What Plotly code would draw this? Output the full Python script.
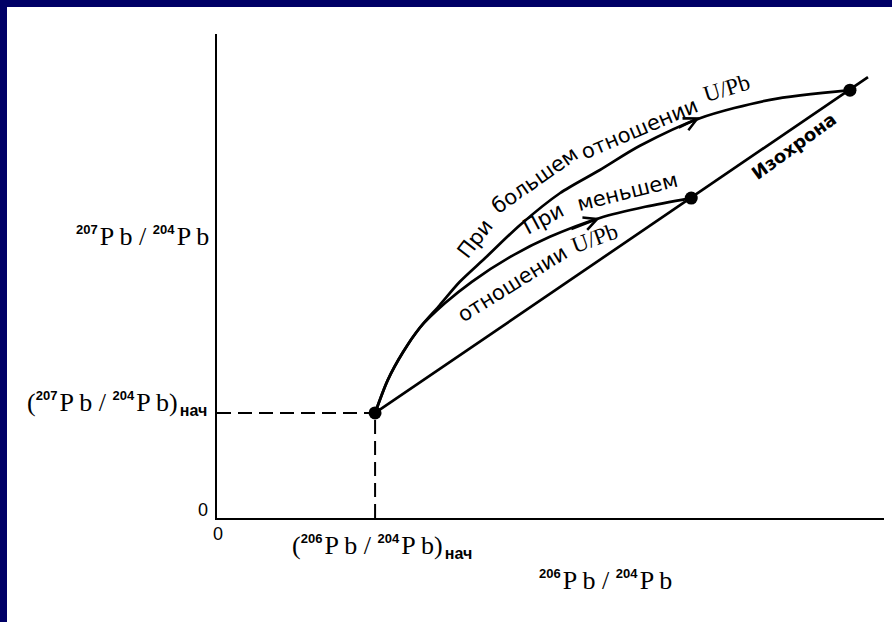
import plotly.graph_objects as go

# ---- data (axis units; both axes span 0..10) ----
X_RANGE = [0, 10]
Y_RANGE = [0, 10]

# initial lead composition
init_x = [2.37]
init_y = [2.17]

# evolution path for the higher U/Pb source
high_x = [2.37, 2.56, 2.79, 3.04, 3.34, 3.64, 4.02, 4.54, 5.14, 5.74, 6.34, 7.24, 8.29, 9.49]
high_y = [2.17, 2.85, 3.43, 3.93, 4.40, 4.88, 5.37, 6.05, 6.71, 7.19, 7.69, 8.26, 8.64, 8.84]

# evolution path for the lower U/Pb source
low_x = [2.37, 2.56, 2.79, 3.04, 3.42, 3.82, 4.39, 4.99, 5.74, 6.42, 7.11]
low_y = [2.17, 2.85, 3.43, 3.93, 4.44, 4.88, 5.39, 5.81, 6.20, 6.43, 6.61]

# isochron through the initial point and present-day compositions
iso_x = [2.37, 7.11, 9.49, 9.76]
iso_y = [2.17, 6.61, 8.84, 9.11]

# present-day compositions (marked points)
now_x = [7.11, 9.49]
now_y = [6.61, 8.84]

# direction arrows on each path: (tail, tip)
arrow_tail_x = [6.90, 5.29]
arrow_tail_y = [8.05, 5.96]
arrow_tip_x = [7.24, 5.74]
arrow_tip_y = [8.28, 6.20]

# tick labels
x_tick_text = "0"
y_tick_text = "0"

# ---- geometry of the page ----
W_FIG, H_FIG = 892, 622
M_L, M_R, M_T, M_B = 217, 8, 34, 104
PW = W_FIG - M_L - M_R
PH = H_FIG - M_T - M_B


def px_x(p):
    return (p - M_L) / PW


def px_y(p):
    return (H_FIG - M_B - p) / PH


def dx(p):
    return (p - M_L) / PW * (X_RANGE[1] - X_RANGE[0])


def dy(p):
    return (H_FIG - M_B - p) / PH * (Y_RANGE[1] - Y_RANGE[0])


SANS = "DejaVu Sans"
SERIF = "Liberation Serif"
SUP = 'style="font-family:Liberation Sans;font-size:13px;font-weight:bold"'
SUB = 'style="font-family:Liberation Sans;font-size:16px;font-weight:bold"'
THIN = "\u2009"
HAIR = "\u200a"


def ratio(a, b):
    pb = f"P{THIN}b"
    return (f"<sup><span {SUP}>{a}</span></sup>{HAIR}{pb} / "
            f"<sup><span {SUP}>{b}</span></sup>{HAIR}{pb}")


def initial(a, b):
    return f"({ratio(a, b)}){HAIR}<sub><span {SUB}>нач</span></sub>"


fig = go.Figure()

line_style = dict(color="black", width=2.7, shape="spline", smoothing=0.8)

fig.add_trace(go.Scatter(x=high_x, y=high_y, mode="lines", line=line_style,
                         hoverinfo="skip"))
fig.add_trace(go.Scatter(x=low_x, y=low_y, mode="lines", line=line_style,
                         hoverinfo="skip"))
fig.add_trace(go.Scatter(x=iso_x, y=iso_y, mode="lines",
                         line=dict(color="black", width=2.7), hoverinfo="skip"))

# projections of the initial point onto the axes
fig.add_trace(go.Scatter(x=[X_RANGE[0], init_x[0]], y=[init_y[0], init_y[0]],
                         mode="lines",
                         line=dict(color="black", width=2, dash="14px,7px"),
                         hoverinfo="skip"))
fig.add_trace(go.Scatter(x=[init_x[0], init_x[0]], y=[Y_RANGE[0], init_y[0]],
                         mode="lines",
                         line=dict(color="black", width=2, dash="14px,7px"),
                         hoverinfo="skip"))

fig.add_trace(go.Scatter(x=init_x + now_x, y=init_y + now_y, mode="markers",
                         marker=dict(color="black", size=13),
                         hoverinfo="skip", cliponaxis=False))

annotations = []

for tx, ty, hx, hy in zip(arrow_tail_x, arrow_tail_y, arrow_tip_x, arrow_tip_y):
    annotations.append(dict(x=hx, y=hy, ax=tx, ay=ty, xref="x", yref="y",
                            axref="x", ayref="y", text="", showarrow=True,
                            arrowhead=5, arrowsize=1.0, arrowwidth=2.6,
                            arrowcolor="black", standoff=0, startstandoff=0))

# labels that follow the curves: (text, px x, px y, angle, font)
curve_labels = [
    ("При", 475, 239, -52, SANS),
    ("большем", 535, 180, -35, SANS),
    ("отношении", 639, 129, -23, SANS),
    ("U/Pb", 726, 88, -17, SERIF),
    ("При", 543, 219, -28, SANS),
    ("меньшем", 627, 192, -14, SANS),
    ("отношении", 512, 284, -32, SANS),
    ("U/Pb", 594, 238, -20, SERIF),
]
for text, px, py, ang, fam in curve_labels:
    annotations.append(dict(x=dx(px), y=dy(py), xref="x", yref="y", text=text,
                            showarrow=False, textangle=ang, xanchor="center",
                            yanchor="middle",
                            font=dict(family=fam, size=23 if fam == SERIF else 21,
                                      color="black")))

annotations.append(dict(x=dx(793), y=dy(146), xref="x", yref="y",
                        text="<b>Изохрона</b>", showarrow=False, textangle=-36,
                        xanchor="center", yanchor="middle",
                        font=dict(family=SANS, size=18, color="black")))

# axis titles and tick labels
axis_font = dict(family=SERIF, size=26, color="black")
annotations += [
    dict(x=px_x(211), y=px_y(236), xref="paper", yref="paper",
         text=ratio(207, 204), showarrow=False, xanchor="right",
         yanchor="middle", font=axis_font),
    dict(x=px_x(209), y=px_y(403), xref="paper", yref="paper",
         text=initial(207, 204), showarrow=False, xanchor="right",
         yanchor="middle", font=axis_font),
    dict(x=px_x(290), y=px_y(546), xref="paper", yref="paper",
         text=initial(206, 204), showarrow=False, xanchor="left",
         yanchor="middle", font=axis_font),
    dict(x=px_x(605), y=px_y(580), xref="paper", yref="paper",
         text=ratio(206, 204), showarrow=False, xanchor="center",
         yanchor="middle", font=axis_font),
    dict(x=px_x(203), y=px_y(510), xref="paper", yref="paper",
         text=y_tick_text, showarrow=False, xanchor="center",
         yanchor="middle",
         font=dict(family="Liberation Sans", size=18, color="black")),
    dict(x=px_x(218), y=px_y(534), xref="paper", yref="paper",
         text=x_tick_text, showarrow=False, xanchor="center",
         yanchor="middle",
         font=dict(family="Liberation Sans", size=18, color="black")),
]

NAVY = "#000066"
shapes = [
    dict(type="rect", xref="paper", yref="paper", x0=px_x(0), x1=px_x(W_FIG),
         y0=px_y(7), y1=px_y(0), fillcolor=NAVY, line=dict(width=0),
         layer="above"),
    dict(type="rect", xref="paper", yref="paper", x0=px_x(0), x1=px_x(7),
         y0=px_y(H_FIG), y1=px_y(0), fillcolor=NAVY, line=dict(width=0),
         layer="above"),
]

axis_common = dict(showline=True, linecolor="black", linewidth=2,
                   showgrid=False, zeroline=False, showticklabels=False,
                   ticks="", fixedrange=True)

fig.update_layout(
    width=W_FIG, height=H_FIG,
    margin=dict(l=M_L, r=M_R, t=M_T, b=M_B, pad=0),
    paper_bgcolor="white", plot_bgcolor="white",
    showlegend=False,
    xaxis=dict(range=X_RANGE, **axis_common),
    yaxis=dict(range=Y_RANGE, **axis_common),
    annotations=annotations,
    shapes=shapes,
)

fig.write_html("out.html", config={"displayModeBar": False})
